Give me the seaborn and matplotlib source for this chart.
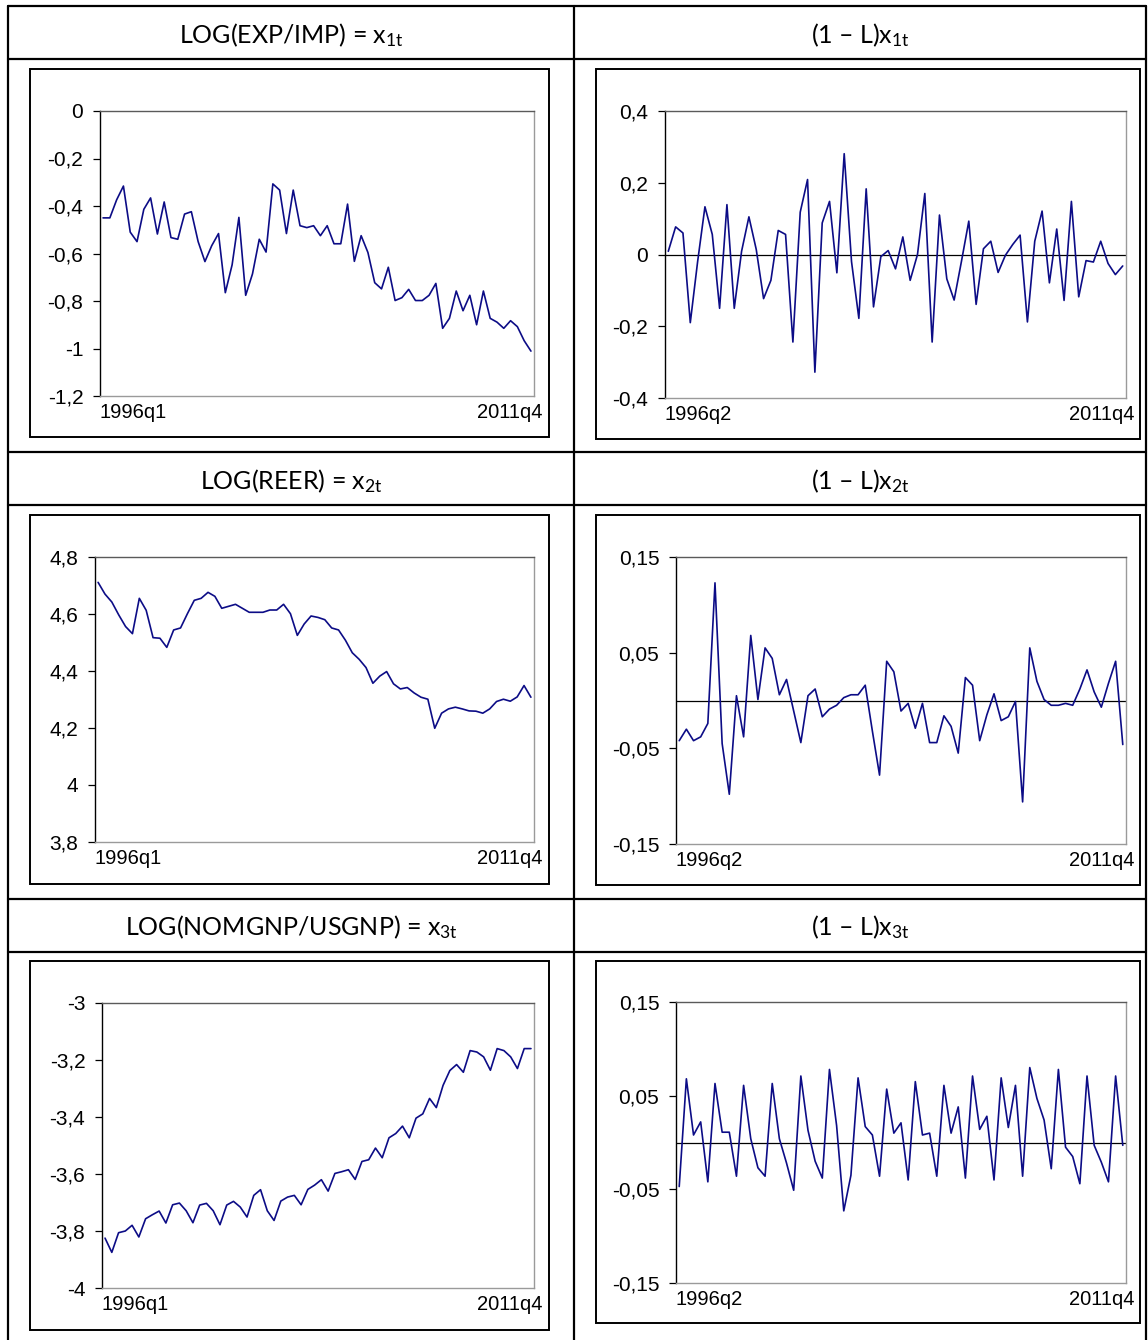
import numpy as np
import pandas as pd
import matplotlib
matplotlib.use("Agg")
import matplotlib.pyplot as plt
import seaborn as sns
from matplotlib.lines import Line2D
from matplotlib.patches import Rectangle
from matplotlib.ticker import FixedLocator, FuncFormatter
import matplotlib.transforms as mtransforms

# ---------------- data ----------------
x1_level = [-0.45, -0.45, -0.374, -0.316, -0.51, -0.55, -0.414, -0.366, -0.518, -0.383,
            -0.533, -0.54, -0.434, -0.424, -0.55, -0.634, -0.567, -0.516, -0.765, -0.648,
            -0.448, -0.776, -0.686, -0.54, -0.594, -0.307, -0.333, -0.516, -0.333, -0.483,
            -0.491, -0.483, -0.525, -0.483, -0.559, -0.559, -0.392, -0.633, -0.525, -0.596,
            -0.723, -0.749, -0.658, -0.798, -0.786, -0.751, -0.798, -0.798, -0.776, -0.726,
            -0.915, -0.873, -0.758, -0.841, -0.776, -0.9, -0.758, -0.873, -0.889, -0.915,
            -0.883, -0.908, -0.967, -1.011]

x1_diff = [0.009, 0.077, 0.060, -0.190, -0.020, 0.133, 0.056, -0.150, 0.139, -0.150,
           0.009, 0.105, 0.014, -0.123, -0.072, 0.067, 0.056, -0.244, 0.118, 0.209,
           -0.328, 0.088, 0.148, -0.051, 0.281, -0.020, -0.178, 0.183, -0.146, -0.006,
           0.011, -0.040, 0.049, -0.072, 0.000, 0.170, -0.244, 0.110, -0.068, -0.127,
           -0.019, 0.093, -0.139, 0.016, 0.037, -0.050, -0.002, 0.028, 0.054, -0.188,
           0.037, 0.121, -0.079, 0.071, -0.128, 0.148, -0.118, -0.017, -0.021, 0.037,
           -0.025, -0.056, -0.032]

x2_level = [4.711, 4.670, 4.642, 4.597, 4.556, 4.531, 4.655, 4.613, 4.517, 4.515,
            4.483, 4.544, 4.551, 4.601, 4.648, 4.655, 4.676, 4.662, 4.620, 4.627,
            4.634, 4.620, 4.606, 4.606, 4.606, 4.614, 4.614, 4.634, 4.601, 4.525,
            4.565, 4.593, 4.588, 4.580, 4.551, 4.544, 4.508, 4.464, 4.441, 4.412,
            4.357, 4.382, 4.398, 4.355, 4.337, 4.342, 4.323, 4.308, 4.301, 4.199,
            4.252, 4.267, 4.273, 4.267, 4.260, 4.259, 4.252, 4.267, 4.293, 4.301,
            4.294, 4.309, 4.349, 4.308]

x2_diff = [-0.042, -0.030, -0.042, -0.038, -0.024, 0.123, -0.045, -0.098, 0.005, -0.038,
           0.068, 0.001, 0.055, 0.044, 0.006, 0.022, -0.011, -0.044, 0.005, 0.012,
           -0.017, -0.009, -0.005, 0.003, 0.006, 0.006, 0.016, -0.032, -0.078, 0.041,
           0.030, -0.011, -0.003, -0.029, -0.003, -0.044, -0.044, -0.016, -0.027, -0.055,
           0.024, 0.016, -0.042, -0.015, 0.007, -0.021, -0.017, -0.001, -0.106, 0.055,
           0.020, 0.001, -0.005, -0.005, -0.003, -0.005, 0.012, 0.032, 0.009, -0.007,
           0.018, 0.041, -0.046]

x3_level = [-3.825, -3.875, -3.806, -3.800, -3.780, -3.821, -3.757, -3.743, -3.730, -3.772,
            -3.708, -3.702, -3.729, -3.771, -3.709, -3.703, -3.729, -3.778, -3.709, -3.696,
            -3.716, -3.751, -3.675, -3.655, -3.729, -3.763, -3.695, -3.681, -3.675, -3.708,
            -3.654, -3.639, -3.620, -3.660, -3.598, -3.592, -3.585, -3.619, -3.556, -3.550,
            -3.509, -3.543, -3.473, -3.458, -3.432, -3.473, -3.404, -3.389, -3.335, -3.367,
            -3.289, -3.237, -3.216, -3.243, -3.167, -3.172, -3.189, -3.236, -3.160, -3.167,
            -3.189, -3.230, -3.160, -3.160]

x3_diff = [-0.047, 0.068, 0.008, 0.022, -0.042, 0.063, 0.011, 0.011, -0.036, 0.061,
           0.004, -0.027, -0.036, 0.063, 0.004, -0.022, -0.051, 0.071, 0.013, -0.020,
           -0.038, 0.078, 0.018, -0.073, -0.035, 0.069, 0.017, 0.008, -0.036, 0.057,
           0.010, 0.021, -0.040, 0.065, 0.008, 0.010, -0.036, 0.061, 0.010, 0.038,
           -0.038, 0.071, 0.014, 0.028, -0.040, 0.069, 0.016, 0.061, -0.036, 0.080,
           0.047, 0.024, -0.028, 0.078, -0.005, -0.015, -0.044, 0.071, -0.003, -0.021,
           -0.042, 0.071, -0.003]

titles = [["LOG(EXP/IMP) = x$_{\\rm 1t}$", "(1 \u2013 L)x$_{\\rm 1t}$"],
          ["LOG(REER) = x$_{\\rm 2t}$", "(1 \u2013 L)x$_{\\rm 2t}$"],
          ["LOG(NOMGNP/USGNP) = x$_{\\rm 3t}$", "(1 \u2013 L)x$_{\\rm 3t}$"]]

level_start_label = "1996q1"
diff_start_label = "1996q2"
end_label = "2011q4"

yticks_x1 = [0, -0.2, -0.4, -0.6, -0.8, -1.0, -1.2]
yticks_dx1 = [0.4, 0.2, 0, -0.2, -0.4]
yticks_x2 = [4.8, 4.6, 4.4, 4.2, 4.0, 3.8]
yticks_dx2 = [0.15, 0.05, -0.05, -0.15]
yticks_x3 = [-3.0, -3.2, -3.4, -3.6, -3.8, -4.0]
yticks_dx3 = [0.15, 0.05, -0.05, -0.15]

# ---------------- style ----------------
sns.set_style("white")
plt.rcParams["font.family"] = ["Liberation Sans", "DejaVu Sans"]
plt.rcParams["mathtext.fontset"] = "custom"
plt.rcParams["mathtext.rm"] = "Lato"
plt.rcParams["mathtext.it"] = "Lato:italic"
plt.rcParams["mathtext.bf"] = "Lato:bold"

W, H = 1148, 1340
fig = plt.figure(figsize=(W / 100, H / 100), dpi=100)
fig.patch.set_facecolor("white")


def fx(x):
    return x / W


def fy(y):
    return 1 - y / H


# ---------------- table grid ----------------
tbl_lw = 1.6
for xv in [8, 574, 1146]:
    fig.add_artist(Line2D([fx(xv), fx(xv)], [fy(6), fy(1345)], color="black",
                          lw=tbl_lw, transform=fig.transFigure))
for yv in [6, 59, 452, 505, 899, 952]:
    fig.add_artist(Line2D([fx(8), fx(1146)], [fy(yv), fy(yv)], color="black",
                          lw=tbl_lw, transform=fig.transFigure))

header_y = [35, 481, 927]
col_cx = [291, 860]
for r in range(3):
    for c in range(2):
        fig.text(fx(col_cx[c]), fy(header_y[r]), titles[r][c], ha="center", va="center",
                 fontsize=18, family="Lato", color="black")

# ---------------- panels ----------------
# (box x0, y0, x1, y1), (axes x0, y0, x1, y1) in pixels
panels = [
    dict(box=(30, 69, 549, 437), ax=(100, 111, 534, 396), data=x1_level, yt=yticks_x1,
         start=level_start_label, zero=False),
    dict(box=(596, 69, 1140, 439), ax=(665, 111, 1126, 398), data=x1_diff, yt=yticks_dx1,
         start=diff_start_label, zero=True),
    dict(box=(30, 515, 549, 884), ax=(95, 557, 534, 842), data=x2_level, yt=yticks_x2,
         start=level_start_label, zero=False),
    dict(box=(596, 515, 1140, 885), ax=(676, 557, 1126, 844), data=x2_diff, yt=yticks_dx2,
         start=diff_start_label, zero=True),
    dict(box=(30, 961, 549, 1330), ax=(102, 1003, 534, 1288), data=x3_level, yt=yticks_x3,
         start=level_start_label, zero=False),
    dict(box=(596, 961, 1140, 1323), ax=(676, 1002, 1126, 1283), data=x3_diff, yt=yticks_dx3,
         start=diff_start_label, zero=True),
]


def comma_fmt(v, pos):
    if abs(v) < 1e-9:
        return "0"
    s = f"{round(v, 3):g}"
    return s.replace(".", ",")


line_color = "#0c0c86"

for p in panels:
    bx0, by0, bx1, by1 = p["box"]
    fig.add_artist(Rectangle((fx(bx0), fy(by1)), fx(bx1) - fx(bx0), fy(by0) - fy(by1),
                             fill=False, edgecolor="black", lw=1.4,
                             transform=fig.transFigure))
    ax0, ay0, ax1, ay1 = p["ax"]
    ax = fig.add_axes([fx(ax0), fy(ay1), fx(ax1) - fx(ax0), fy(ay0) - fy(ay1)])
    vals = p["data"]
    n = len(vals)
    df = pd.DataFrame({"t": np.arange(n), "v": vals})
    if p["zero"]:
        ax.axhline(0, color="black", lw=0.9, zorder=1)
    sns.lineplot(data=df, x="t", y="v", ax=ax, color=line_color, lw=1.2, zorder=2)
    ax.set_xlabel("")
    ax.set_ylabel("")
    yt = p["yt"]
    ax.set_ylim(min(yt), max(yt))
    ax.yaxis.set_major_locator(FixedLocator(yt))
    ax.yaxis.set_major_formatter(FuncFormatter(comma_fmt))
    ax.set_xlim(-0.45, n - 1 + 0.45)
    ax.set_xticks([0, n - 1])
    ax.set_xticklabels([p["start"], end_label])
    ax.tick_params(axis="x", length=0, pad=5, labelsize=14.5, colors="black")
    ax.tick_params(axis="y", direction="out", length=5, width=0.9, pad=7,
                   labelsize=15, colors="black", left=True)
    labs = ax.get_xticklabels()
    labs[0].set_ha("left")
    labs[0].set_transform(labs[0].get_transform() +
                          mtransforms.ScaledTranslation(-4 / 100, 0, fig.dpi_scale_trans))
    labs[1].set_ha("right")
    labs[1].set_transform(labs[1].get_transform() +
                          mtransforms.ScaledTranslation(12 / 100, 0, fig.dpi_scale_trans))
    ax.spines["left"].set_color("black")
    ax.spines["left"].set_linewidth(1.0)
    ax.spines["top"].set_color("#5a5a5a")
    ax.spines["top"].set_linewidth(1.0)
    ax.spines["right"].set_color("#9a9a9a")
    ax.spines["right"].set_linewidth(1.0)
    ax.spines["bottom"].set_color("#9a9a9a")
    ax.spines["bottom"].set_linewidth(1.0)
    for s in ax.spines.values():
        s.set_visible(True)
    ax.set_facecolor("white")
    ax.grid(False)

fig.savefig("out.png", dpi=100, facecolor="white")
